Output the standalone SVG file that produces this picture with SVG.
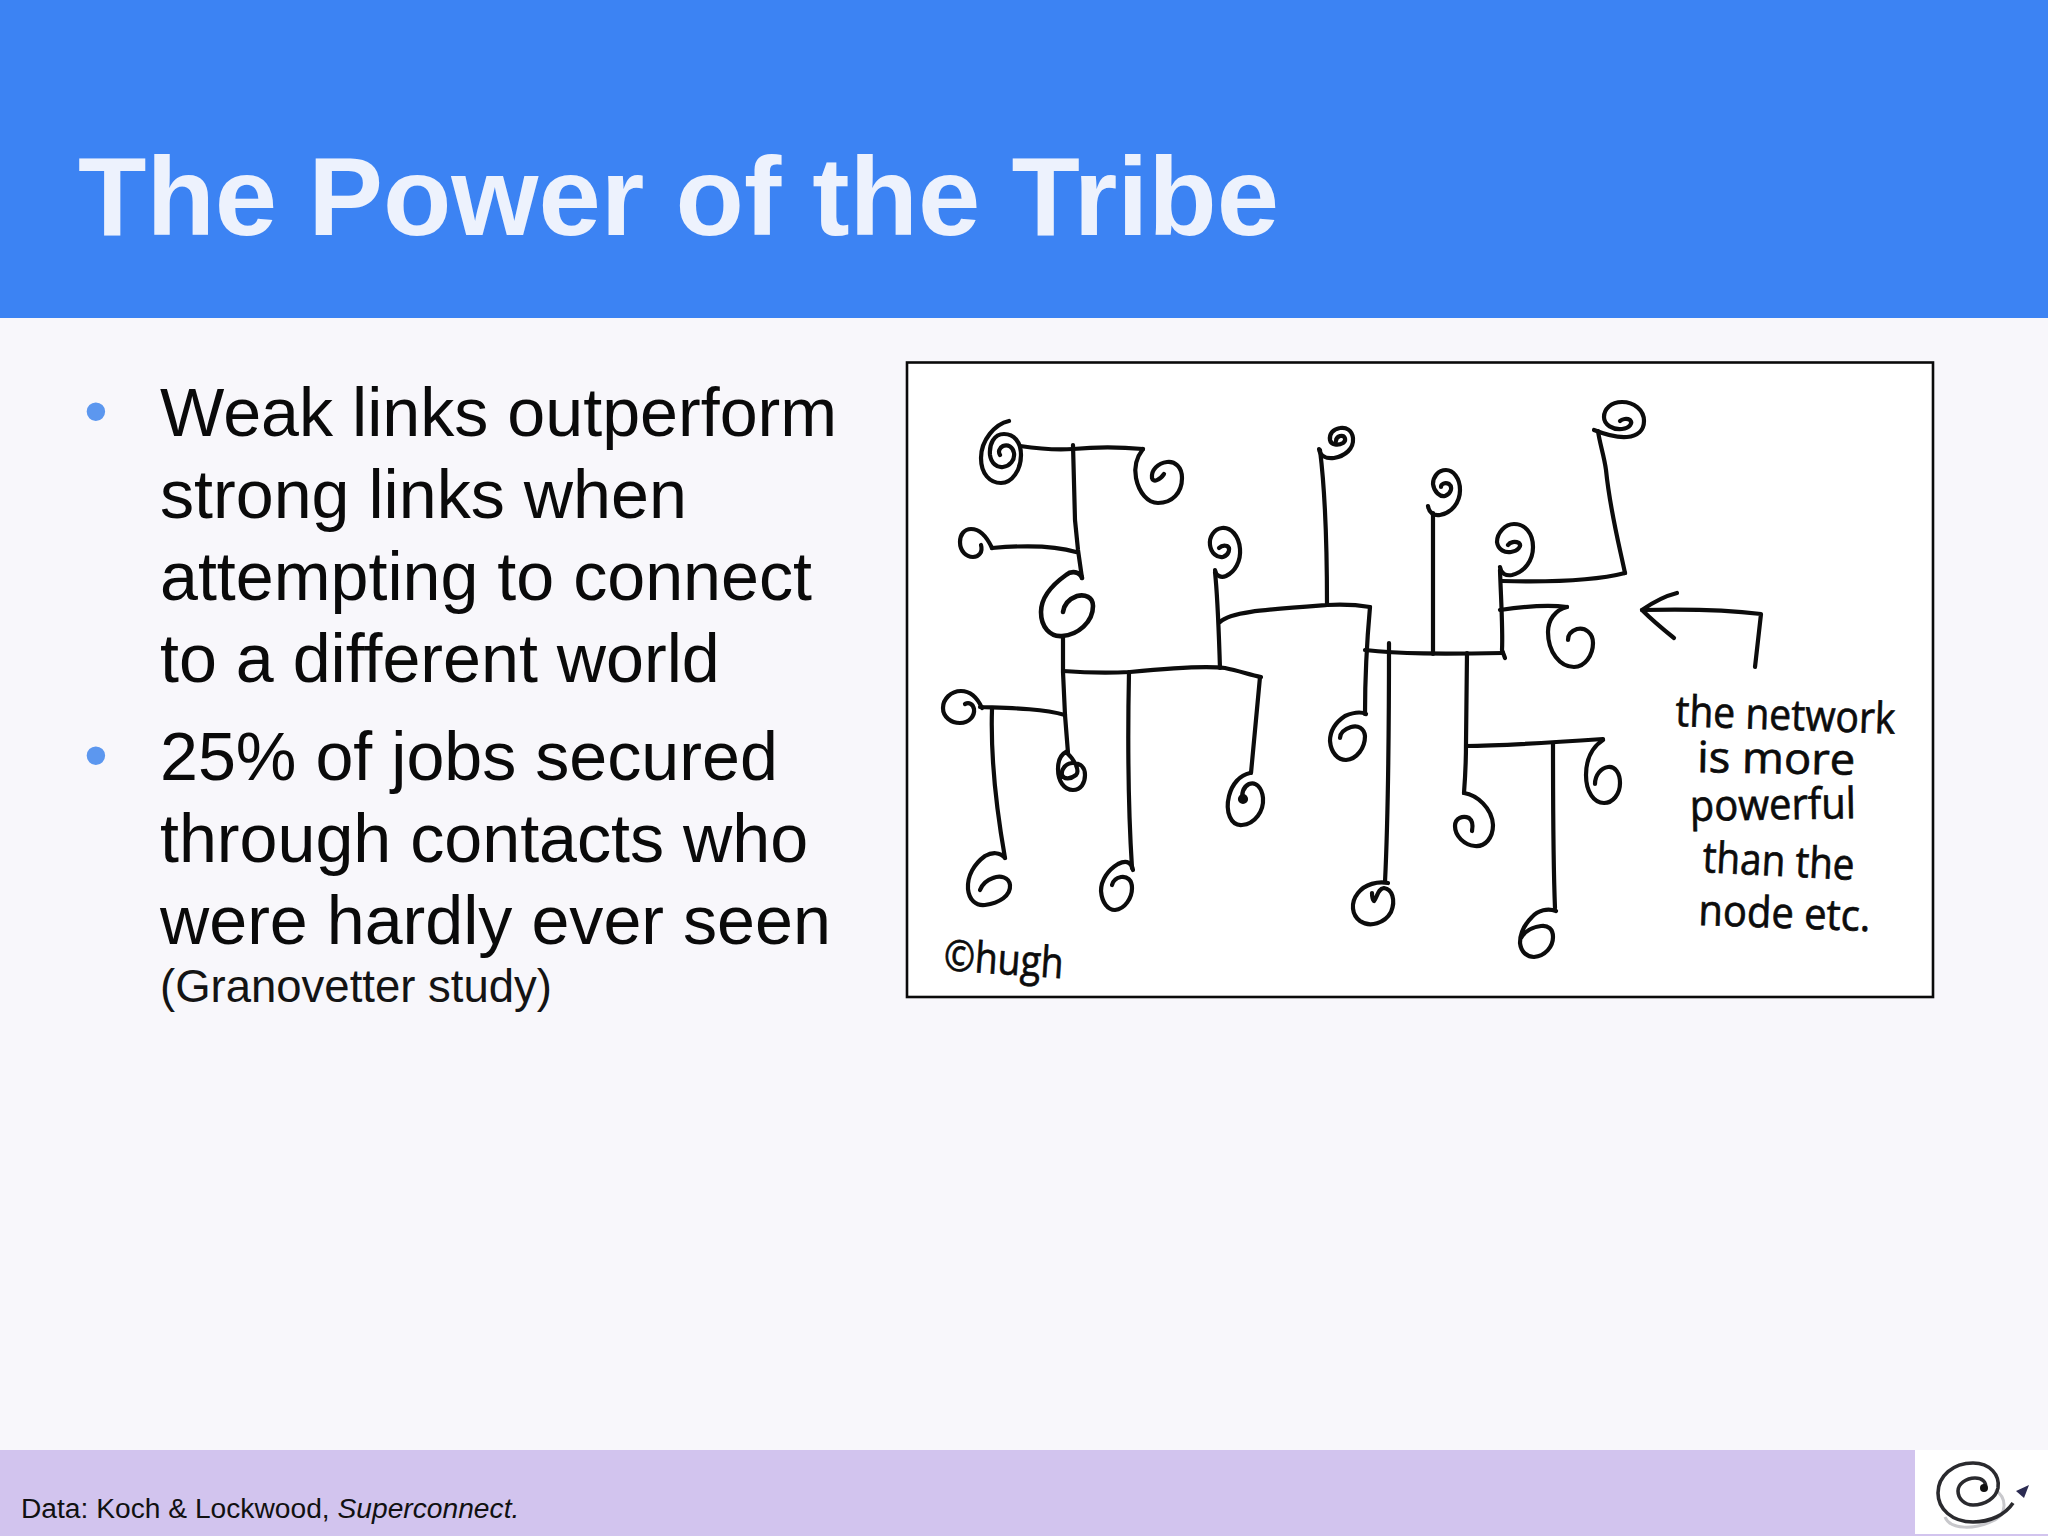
<svg xmlns="http://www.w3.org/2000/svg" width="2048" height="1536" viewBox="0 0 2048 1536">
<style>
.ink{fill:none;stroke:#0c0c0c;stroke-width:4.200;stroke-linecap:round;stroke-linejoin:round}
.sans{font-family:"Liberation Sans",Arial,sans-serif}
.body{font-size:68.200px;fill:#0a0a0a}
.bullet{font-size:68px;fill:#5c97ef}
.hand{font-family:"Open Sans","Noto Sans",sans-serif;font-size:43px;fill:#0c0c0c;stroke:#0c0c0c;stroke-width:.7}
</style>
<rect id="background" width="2048" height="1536" fill="#f8f7fb"/>
<rect id="header" width="2048" height="318" fill="#3c83f3"/>
<text id="title" class="sans" x="78" y="235" font-size="112" font-weight="bold" fill="#edf2fd">The Power of the Tribe</text>
<g id="bullets">
<text class="sans bullet" x="84" y="434">•</text>
<text class="sans bullet" x="84" y="778">•</text>
<text class="sans body" x="160" y="436">Weak links outperform</text>
<text class="sans body" x="160" y="518">strong links when</text>
<text class="sans body" x="160" y="600">attempting to connect</text>
<text class="sans body" x="160" y="682">to a different world</text>
<text class="sans body" x="160" y="780">25% of jobs secured</text>
<text class="sans body" x="160" y="862">through contacts who</text>
<text class="sans body" x="160" y="944">were hardly ever seen</text>
<text class="sans" x="160" y="1002" font-size="45.500" fill="#141414">(Granovetter study)</text>
</g>
<rect id="picture-frame" x="907" y="362.500" width="1026" height="634.500" fill="#fff" stroke="#0a0a0a" stroke-width="2.600"/>
<g id="connectors" class="ink">
<path d="M1020 446C1040 449 1060 450 1073 449C1095 447 1120 447 1143 449"/>
<path d="M1073 445L1075 520L1078 550L1082 578"/>
<path d="M992 548C1015 546 1050 544 1076 552"/>
<path d="M1063 637L1063 672L1065 715L1068 753"/>
<path d="M1063 671C1090 673 1110 673 1130 672C1170 668 1210 666 1225 668C1240 671 1250 675 1261 677"/>
<path d="M1215 572C1218 600 1219 640 1220 668"/>
<path d="M1220 622C1230 612 1260 610 1327 605C1345 604 1358 605 1370 607"/>
<path d="M1320 450C1325 490 1327 550 1327 605"/>
<path d="M1370 607C1367 640 1365 680 1365 714"/>
<path d="M1365 650C1400 654 1440 654 1503 653"/>
<path d="M1389 643C1389 700 1389 800 1385 882"/>
<path d="M1433 513L1433 654"/>
<path d="M1500 570C1501 600 1503 630 1502 650L1505 658"/>
<path d="M1502 581C1540 582 1590 582 1625 573"/>
<path d="M1625 573C1618 540 1610 510 1606 470C1604 455 1600 445 1598 431"/>
<path d="M1500 610C1520 607 1545 604 1567 607"/>
<path d="M1467 653L1466 743C1466 760 1465 780 1464 793"/>
<path d="M1466 746C1500 746 1560 742 1603 739"/>
<path d="M1553 743C1553 800 1553 860 1555 908"/>
<path d="M980 707C1005 708 1040 708 1065 715"/>
<path d="M992 709C991 740 993 790 1005 858"/>
<path d="M1129 672C1128 720 1127 790 1132 868"/>
<path d="M1260 677L1251 773"/>
<path d="M1642 610C1680 609 1720 609 1761 614L1755 667"/>
<path d="M1677 593C1665 596 1652 603 1642 610C1652 620 1664 630 1674 638"/>
</g>
<g class="ink">
<g id="node-a"><path d="M1009 421C995 424 981 440 981 458C981 474 990 483 1001 483C1012 483 1021 470 1021 455C1021 442 1014 434 1004 434C994 434 989 444 990 455C991 463 997 468 1003 467C1010 466 1015 460 1014 453C1013 447 1008 444 1003 446C999 448 998 452 1000 455"/></g>
<g id="node-b"><path d="M1143 449C1136 458 1134 468 1136 478C1139 493 1148 503 1158 503C1172 503 1182 493 1182 478C1182 467 1175 461 1167 462C1158 463 1151 470 1152 478C1153 483 1160 480 1164 474"/></g>
<g id="node-c"><path d="M992 548C986 535 978 529 971 529C964 529 960 535 960 542C960 551 966 557 973 557C979 557 983 552 981 545"/></g>
<g id="node-d"><path d="M1082 578C1080 572 1072 570 1066 575C1052 585 1041 598 1041 612C1041 627 1050 637 1062 636C1078 635 1093 622 1093 606C1093 597 1085 594 1077 596C1069 599 1064 605 1063 612" stroke-width="4.600"/></g>
<g id="node-e"><path d="M1215 570C1216 576 1221 578 1226 576C1235 572 1241 561 1240 549C1239 536 1231 527 1222 528C1214 529 1209 537 1210 545C1211 553 1217 558 1223 557C1229 555 1231 548 1227 546C1224 545 1221 546 1219 548"/></g>
<g id="node-f"><path d="M1319 449C1320 456 1326 459 1334 458C1345 456 1354 449 1353 438C1352 430 1346 427 1340 428C1333 429 1329 434 1330 440C1331 445 1338 446 1343 443C1347 440 1345 435 1340 436C1337 437 1336 439 1336 441"/></g>
<g id="node-g"><path d="M1366 714C1360 711 1352 713 1345 716C1336 722 1330 731 1330 741C1331 753 1338 760 1346 760C1357 759 1365 748 1365 736C1364 728 1358 725 1351 727C1345 729 1340 733 1340 738"/></g>
<g id="node-h"><path d="M1388 883C1378 881 1365 884 1358 893C1350 903 1352 915 1360 921C1370 928 1385 923 1391 912C1396 900 1392 889 1384 888C1378 889 1378 895 1374 901C1372 899 1372 896 1372 893"/></g>
<g id="node-i"><path d="M1428 506C1429 513 1434 516 1440 515C1452 513 1460 502 1460 490C1460 478 1453 470 1446 470C1438 470 1433 477 1433 484C1434 492 1440 497 1445 496C1451 494 1453 487 1449 484C1445 482 1441 484 1441 487"/></g>
<g id="node-j"><path d="M1500 567C1501 574 1506 576 1512 575C1525 572 1533 560 1533 547C1533 533 1525 524 1514 524C1505 524 1497 533 1497 542C1498 550 1505 553 1511 552C1518 551 1522 546 1519 543C1515 541 1510 542 1508 545"/></g>
<g id="node-k"><path d="M1594 430C1604 434 1615 438 1627 437C1638 436 1644 430 1644 421C1644 410 1634 402 1622 402C1611 402 1604 409 1604 417C1604 425 1613 430 1622 429C1630 428 1633 423 1630 420C1627 418 1622 419 1620 421"/></g>
<g id="node-l"><path d="M1567 607C1555 610 1548 620 1548 632C1548 652 1560 667 1574 667C1585 667 1593 655 1593 643C1593 633 1585 627 1577 629C1571 631 1568 635 1568 640"/></g>
<g id="node-m"><path d="M1556 911C1548 908 1538 910 1532 917C1524 925 1520 935 1520 943C1521 952 1527 957 1534 957C1545 956 1553 947 1553 937C1553 929 1548 925 1541 926C1533 927 1525 931 1521 938"/></g>
<g id="node-n"><path d="M1603 740C1592 747 1586 760 1586 775C1586 792 1594 803 1604 803C1613 803 1620 794 1620 783C1620 773 1615 766 1608 767C1601 768 1595 775 1595 784"/></g>
<g id="node-o"><path d="M1464 793C1477 795 1492 808 1493 825C1493 838 1485 847 1475 846C1464 845 1455 836 1455 826C1455 818 1463 815 1469 818C1473 821 1473 826 1472 831"/></g>
<g id="node-p"><path d="M982 708C977 697 970 691 961 691C951 691 943 699 943 708C943 717 951 723 960 723C969 723 975 716 974 709C973 704 969 702 965 704"/></g>
<g id="node-q"><path d="M1005 858C1000 852 992 852 985 856C974 864 967 876 968 889C969 900 976 906 985 905C999 903 1011 896 1010 885C1009 877 1000 875 993 878C987 880 982 885 980 890"/></g>
<g id="node-r"><path d="M1066 752C1060 755 1058 762 1058 769C1058 781 1064 790 1073 790C1081 790 1085 783 1085 775C1085 767 1080 763 1073 763C1066 763 1061 769 1062 775C1064 780 1071 779 1076 775C1080 771 1075 760 1066 752"/></g>
<g id="node-s"><path d="M1133 870C1131 860 1124 861 1118 864C1108 870 1101 880 1101 891C1102 903 1108 910 1115 910C1125 909 1132 898 1132 888C1132 880 1127 876 1121 877C1116 878 1113 881 1112 885"/></g>
<g id="node-t"><path d="M1250 773C1240 775 1232 784 1229 796C1225 812 1231 826 1242 825C1255 824 1264 811 1263 798C1262 788 1256 781 1249 784C1243 787 1241 794 1243 801"/><circle cx="1243" cy="799" r="3" fill="#0c0c0c"/></g>
</g>
<g id="handwriting">
<text class="hand" x="943" y="970" font-size="42" textLength="120" lengthAdjust="spacingAndGlyphs" transform="rotate(4 943 970)">©hugh</text>
<text class="hand" x="1675" y="726" textLength="220" lengthAdjust="spacingAndGlyphs" transform="rotate(2 1675 726)">the network</text>
<text class="hand" x="1697" y="772" textLength="158" lengthAdjust="spacingAndGlyphs" transform="rotate(1 1697 772)">is more</text>
<text class="hand" x="1690" y="821" textLength="166" lengthAdjust="spacingAndGlyphs" transform="rotate(-1 1690 821)">powerful</text>
<text class="hand" x="1702" y="872" textLength="152" lengthAdjust="spacingAndGlyphs" transform="rotate(3 1702 872)">than the</text>
<text class="hand" x="1698" y="925" textLength="172" lengthAdjust="spacingAndGlyphs" transform="rotate(2 1698 925)">node etc.</text>
</g>
<rect id="footer" y="1450" width="2048" height="86" fill="#d2c4ee"/>
<text id="source" class="sans" x="21" y="1518" font-size="28.200" fill="#111">Data: Koch &amp; Lockwood, <tspan font-style="italic">Superconnect.</tspan></text>
<g id="logo">
<rect x="1915" y="1450" width="133" height="84" fill="#fff"/>
<path d="M1945 1517C1950 1530 1975 1530 1995 1520C2006 1514 2008 1498 1995 1490" fill="none" stroke="#c8c8cc" stroke-width="3"/>
<path d="M2013 1503C2005 1515 1990 1522 1973 1522C1952 1522 1938 1509 1938 1493C1938 1476 1953 1463 1973 1463C1990 1463 2000 1475 1998 1488C1996 1498 1985 1505 1973 1505C1965 1505 1958 1499 1958 1491C1958 1484 1966 1478 1975 1478C1982 1478 1987 1482 1985 1488" fill="none" stroke="#2a2a2e" stroke-width="3.600"/>
<circle cx="1984" cy="1488" r="4" fill="#111"/>
<path d="M2016 1491L2029 1485L2024 1498Z" fill="#2b2b52"/>
</g>
</svg>
